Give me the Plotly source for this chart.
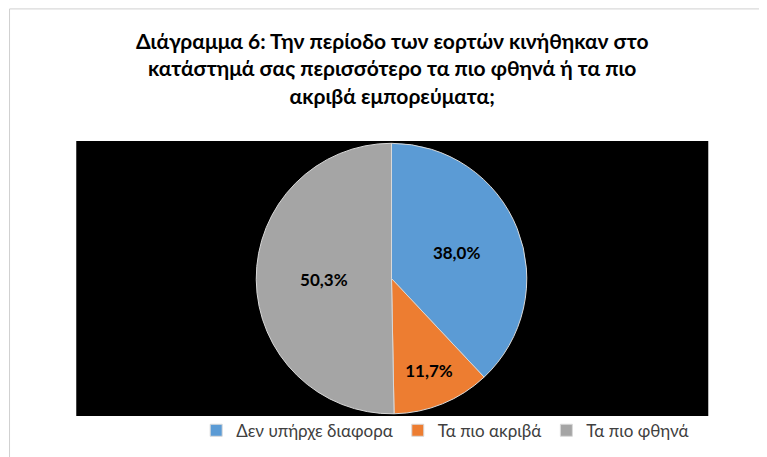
import plotly.graph_objects as go

labels = ["Δεν υπήρχε διαφορα", "Τα πιο ακριβά", "Τα πιο φθηνά"]
values = [38.0, 11.7, 50.3]
text_labels = ["38,0%", "11,7%", "50,3%"]
colors = ["#5B9BD5", "#ED7D31", "#A5A5A5"]

fig = go.Figure(go.Pie(
    labels=labels, values=values, text=text_labels,
    textinfo="text", textposition="inside", insidetextorientation="horizontal",
    textfont=dict(family="Lato", size=17, color="#000000", weight="bold"),
    marker=dict(colors=colors, line=dict(color="#d9d9d9", width=1)),
    sort=False, direction="clockwise", rotation=0,
    domain=dict(x=[0.09, 0.91], y=[0.112, 0.704]),
))
fig.update_layout(
    width=767, height=457, margin=dict(l=0, r=0, t=0, b=0),
    paper_bgcolor="white",
    shapes=[
        dict(type="rect", xref="paper", yref="paper", x0=0.089, x1=0.913, y0=0.107, y1=0.709,
             fillcolor="black", line=dict(width=0), layer="below"),
        dict(type="rect", xref="paper", yref="paper", x0=0.002, x1=0.998, y0=0.002, y1=0.998,
             line=dict(color="#d0d0d0", width=1)),
    ],
    annotations=[dict(
        text="<b>Διάγραμμα 6: Την περίοδο των εορτών κινήθηκαν στο<br>κατάστημά σας περισσότερο τα πιο φθηνά ή τα πιο<br>ακριβά εμπορεύματα;</b>",
        xref="paper", yref="paper", x=0.5, y=0.96, xanchor="center", yanchor="top",
        showarrow=False, font=dict(family="Lato", size=21, color="black"))],
    legend=dict(orientation="h", x=0.57, xanchor="center", y=0.075, yanchor="middle",
                bgcolor="rgba(0,0,0,0)", itemwidth=30,
                font=dict(family="Lato", size=17, color="#404040")),
)
fig.write_html("out.html")
